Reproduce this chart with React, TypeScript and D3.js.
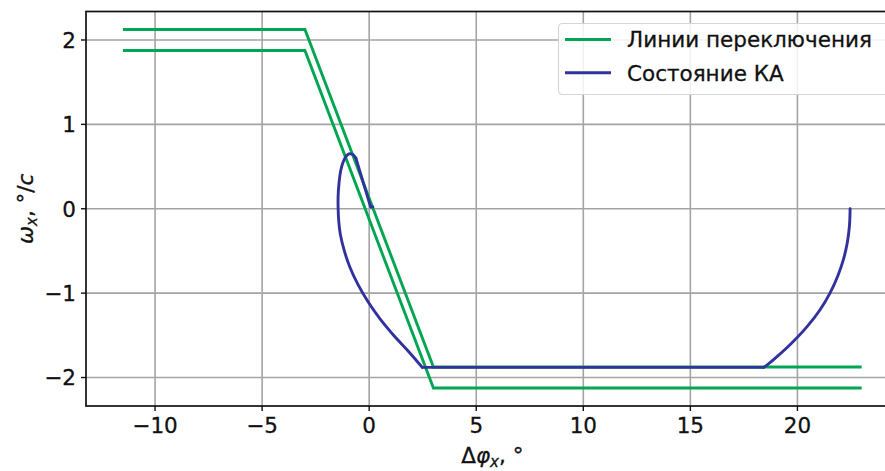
import React from "react";
import * as d3 from "d3";

const width = 885;
const height = 471;
const margin = { top: 11.5, left: 86, right: -13.6, bottom: 65 };

// switching lines (two parallel bands)
const upperLine: [number, number][] = [[-11.5, 2.125], [-3, 2.125], [3, -1.875], [23, -1.875]];
const lowerLine: [number, number][] = [[-11.5, 1.875], [-3, 1.875], [3, -2.125], [23, -2.125]];

// spacecraft state trajectory (braking arc, coast, final arc, slide)
const arc1Phi = [22.46, 22.43, 22.33, 22.15, 21.88, 21.52, 21.05, 20.44, 19.7, 19.06, 18.59, 18.41];
const arc1Omega = [0, -0.2, -0.4, -0.6, -0.8, -1.0, -1.2, -1.4, -1.6, -1.75, -1.85, -1.88];
const coastPhi = [18.41, 2.48];
const coastOmega = [-1.88, -1.88];
const arc2Phi = [2.48, 1.87, 1.14, 0.49, -0.06, -0.52, -0.89, -1.16, -1.35, -1.42, -1.45, -1.45, -1.41, -1.33, -1.22, -1.08, -0.94, -0.78, -0.62];
const arc2Omega = [-1.88, -1.7, -1.5, -1.3, -1.1, -0.9, -0.7, -0.5, -0.3, -0.15, 0, 0.15, 0.3, 0.45, 0.55, 0.62, 0.65, 0.645, 0.6];
const slidePhi = [-0.62, 0.07, 0.17];
const slideOmega = [0.6, 0.02, 0.02];

const xTicks = [-10, -5, 0, 5, 10, 15, 20];
const yTicks = [-2, -1, 0, 1, 2];
const legendLabels = ["Линии переключения", "Состояние КА"];

const green = "#00a651";
const blue = "#32329c";
const font = "DejaVu Sans, sans-serif";
const fs = 21.5;

const zip = (a: number[], b: number[]) => a.map((v, i) => [v, b[i]] as [number, number]);

export default function App() {
  const x = d3.scaleLinear().domain([-13.225, 24.725]).range([margin.left, width - margin.right]);
  const y = d3.scaleLinear().domain([-2.3375, 2.3375]).range([height - margin.bottom, margin.top]);

  const line = d3.line<[number, number]>().x(d => x(d[0])).y(d => y(d[1]));
  const smooth = d3.line<[number, number]>().x(d => x(d[0])).y(d => y(d[1])).curve(d3.curveCatmullRom.alpha(0.5));

  const left = x.range()[0];
  const right = x.range()[1];
  const top = y.range()[1];
  const bottom = y.range()[0];
  const fmt = (v: number) => (v < 0 ? "\u2212" + Math.abs(v) : String(v));
  const lw = 2.9;

  return (
    <svg width={width} height={height} style={{ position: "absolute", left: 0, top: 0, background: "#fff" }} fontFamily={font}>
      {/* grid */}
      {xTicks.map(t => (
        <line key={"gx" + t} x1={x(t)} x2={x(t)} y1={top} y2={bottom} stroke="#a4a4a4" strokeWidth={1.6} />
      ))}
      {yTicks.map(t => (
        <line key={"gy" + t} x1={left} x2={right} y1={y(t)} y2={y(t)} stroke="#a4a4a4" strokeWidth={1.6} />
      ))}

      <path d={line(upperLine) || ""} fill="none" stroke={green} strokeWidth={lw} />
      <path d={line(lowerLine) || ""} fill="none" stroke={green} strokeWidth={lw} />
      <g fill="none" stroke={blue} strokeWidth={lw} strokeLinejoin="round" strokeLinecap="round">
        <path d={smooth(zip(arc1Phi, arc1Omega)) || ""} />
        <path d={line(zip(coastPhi, coastOmega)) || ""} />
        <path d={smooth(zip(arc2Phi, arc2Omega)) || ""} />
        <path d={line(zip(slidePhi, slideOmega)) || ""} />
      </g>

      {/* spines */}
      <rect x={left} y={top} width={right - left} height={bottom - top} fill="none" stroke="#111" strokeWidth={1.7} />

      {/* ticks */}
      {xTicks.map(t => (
        <g key={"tx" + t} transform={`translate(${x(t)},${bottom})`}>
          <line y2={5} stroke="#111" strokeWidth={1.4} />
          <text y={27} textAnchor="middle" fontSize={fs} fill="#111" stroke="#111" strokeWidth={0.3}>{fmt(t)}</text>
        </g>
      ))}
      {yTicks.map(t => (
        <g key={"ty" + t} transform={`translate(${left},${y(t)})`}>
          <line x2={-5} stroke="#111" strokeWidth={1.4} />
          <text x={-10} dy="0.36em" textAnchor="end" fontSize={fs} fill="#111" stroke="#111" strokeWidth={0.3}>{fmt(t)}</text>
        </g>
      ))}

      {/* axis labels */}
      <text x={(left + right) / 2} y={463} textAnchor="middle" fontSize={fs} fill="#111" stroke="#111" strokeWidth={0.3}>
        Δ<tspan fontStyle="italic">φ</tspan>
        <tspan fontStyle="italic" fontSize={15} dy={4}>x</tspan>
        <tspan dy={-4}>, °</tspan>
      </text>
      <text transform={`translate(33,${(top + bottom) / 2}) rotate(-90)`} textAnchor="middle" fontSize={fs} fill="#111" stroke="#111" strokeWidth={0.3}>
        <tspan fontStyle="italic">ω</tspan>
        <tspan fontStyle="italic" fontSize={15} dy={4}>x</tspan>
        <tspan dy={-4}>, °/</tspan>
        <tspan fontStyle="italic">c</tspan>
      </text>

      {/* legend */}
      <g>
        <rect x={558.5} y={23.5} width={336} height={71} rx={4} fill="#fff" fillOpacity={0.85} stroke="#d6d6d6" strokeWidth={1.2} />
        {legendLabels.map((lab, i) => (
          <g key={lab} transform={`translate(0,${39.5 + i * 33.3})`}>
            <line x1={565} x2={611} stroke={i === 0 ? green : blue} strokeWidth={lw} />
            <text x={627} dy="0.36em" fontSize={fs} fill="#111" stroke="#111" strokeWidth={0.3}>{lab}</text>
          </g>
        ))}
      </g>
    </svg>
  );
}
